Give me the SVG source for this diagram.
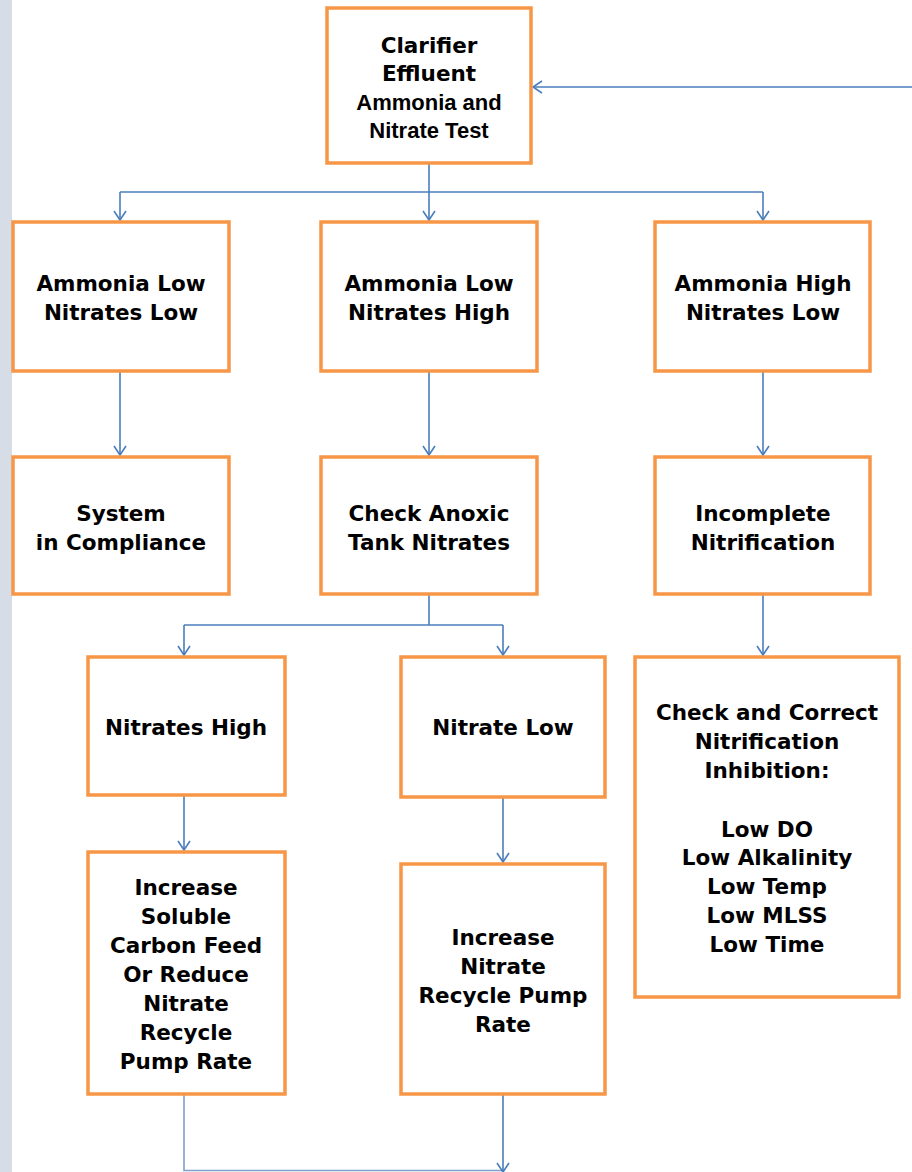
<svg xmlns="http://www.w3.org/2000/svg" width="912" height="1172" viewBox="0 0 912 1172">
<style>
.box{fill:#fff;stroke:#f79646;stroke-width:3.5}
.t{font-family:"DejaVu Sans",Verdana,sans-serif;font-weight:bold;font-size:21.5px;fill:#000;text-anchor:middle}
.a{font-family:"Liberation Sans",Arial,sans-serif;font-weight:bold;font-size:22px;fill:#000;text-anchor:middle}
.c{fill:none;stroke:#4a7ebb;stroke-width:1.6}
</style>
<defs>
<marker id="ar" markerUnits="userSpaceOnUse" markerWidth="20" markerHeight="20" viewBox="-10 -10 20 20" refX="0" refY="0" orient="auto">
<path d="M-9,-6 L0,0 L-9,6" fill="none" stroke="#4a7ebb" stroke-width="1.6"/>
</marker>
</defs>
<rect x="0" y="0" width="12" height="1172" fill="#d6dde7"/>
<g id="connectors">
<path class="c" d="M912,87 L533,87" marker-end="url(#ar)"/>
<path class="c" d="M429,164 L429,192"/>
<path class="c" d="M120,192 L763,192"/>
<path class="c" d="M120,192 L120,220" marker-end="url(#ar)"/>
<path class="c" d="M429,192 L429,220" marker-end="url(#ar)"/>
<path class="c" d="M763,192 L763,220" marker-end="url(#ar)"/>
<path class="c" d="M120,372 L120,455" marker-end="url(#ar)"/>
<path class="c" d="M429,372 L429,455" marker-end="url(#ar)"/>
<path class="c" d="M763,372 L763,455" marker-end="url(#ar)"/>
<path class="c" d="M429,595 L429,625"/>
<path class="c" d="M184,625 L503,625"/>
<path class="c" d="M184,625 L184,655" marker-end="url(#ar)"/>
<path class="c" d="M503,625 L503,655" marker-end="url(#ar)"/>
<path class="c" d="M763,595 L763,655" marker-end="url(#ar)"/>
<path class="c" d="M184,796 L184,850" marker-end="url(#ar)"/>
<path class="c" d="M503,798 L503,862" marker-end="url(#ar)"/>
<path class="c" d="M184,1095 L184,1170.5 L503,1170.5" style="stroke:#7f9fcc"/>
<path class="c" d="M503,1095 L503,1172" marker-end="url(#ar)"/>
</g>
<g id="n-test">
<rect class="box" x="327" y="8" width="204" height="155"/>
<text class="t" x="429" y="53">Clarifier</text>
<text class="t" x="429" y="81">Effluent</text>
<text class="a" x="429" y="110">Ammonia and</text>
<text class="a" x="429" y="138">Nitrate Test</text>
</g>
<g id="n-lowlow">
<rect class="box" x="13" y="222" width="216" height="149"/>
<text class="t" x="121" y="291">Ammonia Low</text>
<text class="t" x="121" y="320">Nitrates Low</text>
</g>
<g id="n-lowhigh">
<rect class="box" x="321" y="222" width="216" height="149"/>
<text class="t" x="429" y="291">Ammonia Low</text>
<text class="t" x="429" y="320">Nitrates High</text>
</g>
<g id="n-highlow">
<rect class="box" x="655" y="222" width="215" height="149"/>
<text class="t" x="763" y="291">Ammonia High</text>
<text class="t" x="763" y="320">Nitrates Low</text>
</g>
<g id="n-compliance">
<rect class="box" x="13" y="457" width="216" height="137"/>
<text class="t" x="121" y="521">System</text>
<text class="t" x="121" y="550">in Compliance</text>
</g>
<g id="n-anoxic">
<rect class="box" x="321" y="457" width="216" height="137"/>
<text class="t" x="429" y="521">Check Anoxic</text>
<text class="t" x="429" y="550">Tank Nitrates</text>
</g>
<g id="n-incomplete">
<rect class="box" x="655" y="457" width="215" height="137"/>
<text class="t" x="763" y="521">Incomplete</text>
<text class="t" x="763" y="550">Nitrification</text>
</g>
<g id="n-nhigh">
<rect class="box" x="88" y="657" width="197" height="138"/>
<text class="t" x="186" y="735">Nitrates High</text>
</g>
<g id="n-nlow">
<rect class="box" x="401" y="657" width="204" height="140"/>
<text class="t" x="503" y="735">Nitrate Low</text>
</g>
<g id="n-inhibition">
<rect class="box" x="635" y="657" width="264" height="340"/>
<text class="t" x="767" y="720">Check and Correct</text>
<text class="t" x="767" y="749">Nitrification</text>
<text class="t" x="767" y="778">Inhibition:</text>
<text class="t" x="767" y="837">Low DO</text>
<text class="t" x="767" y="865">Low Alkalinity</text>
<text class="t" x="767" y="894">Low Temp</text>
<text class="t" x="767" y="923">Low MLSS</text>
<text class="t" x="767" y="952">Low Time</text>
</g>
<g id="n-carbon">
<rect class="box" x="88" y="852" width="197" height="242"/>
<text class="t" x="186" y="895">Increase</text>
<text class="t" x="186" y="924">Soluble</text>
<text class="t" x="186" y="953">Carbon Feed</text>
<text class="t" x="186" y="982">Or Reduce</text>
<text class="t" x="186" y="1011">Nitrate</text>
<text class="t" x="186" y="1040">Recycle</text>
<text class="t" x="186" y="1069">Pump Rate</text>
</g>
<g id="n-recycle">
<rect class="box" x="401" y="864" width="204" height="230"/>
<text class="t" x="503" y="945">Increase</text>
<text class="t" x="503" y="974">Nitrate</text>
<text class="t" x="503" y="1003">Recycle Pump</text>
<text class="t" x="503" y="1032">Rate</text>
</g>
</svg>
